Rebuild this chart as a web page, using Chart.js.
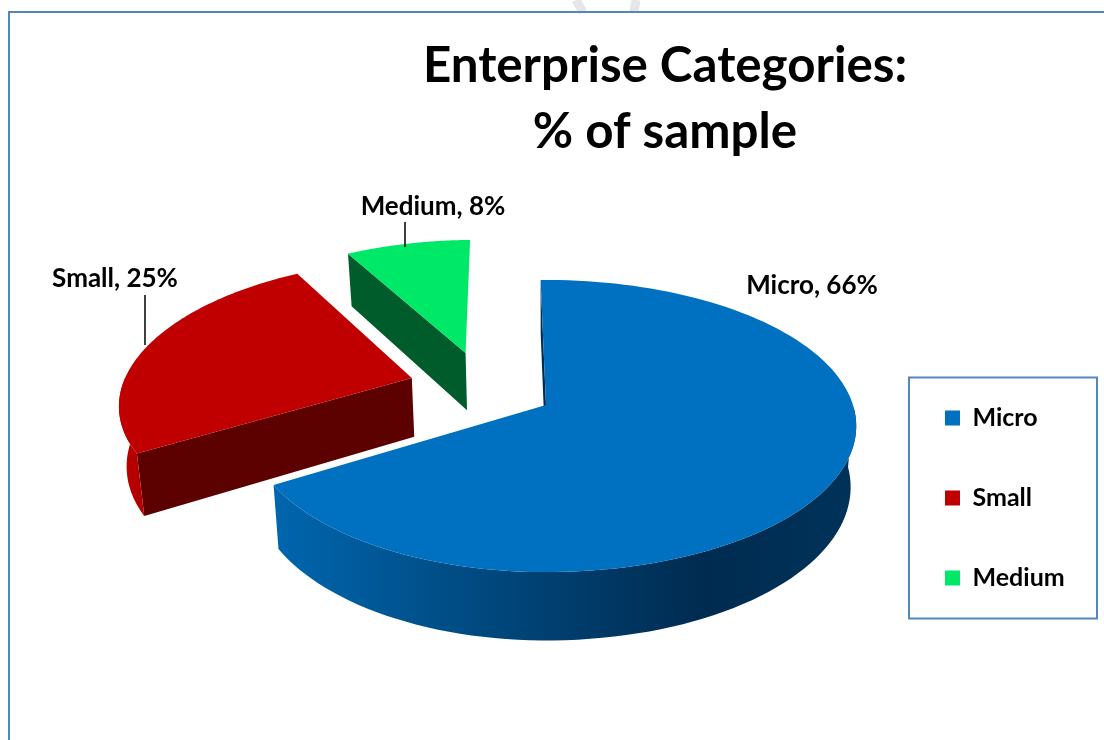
<!DOCTYPE html>
<html>
<head>
<meta charset="utf-8">
<title>Enterprise Categories</title>
<script src="https://cdn.jsdelivr.net/npm/chart.js@4"></script>
<style>
    html, body { margin: 0; padding: 0; background: #fff; overflow: hidden; }
    canvas { display: block; }
</style>
</head>
<body>
<canvas id="pieChart" width="1104" height="740"></canvas>
<script>
// Data
const categories = ['Micro', 'Small', 'Medium'];
const shares = [66, 25, 8];
const titleLines = ['Enterprise Categories:', '% of sample'];

// Slice colours: top face, cut face, rim shading left to right
const topColors = ['#0070c0', '#c00000', '#00e868'];
const cutColors = ['#002b50', '#5c0000', '#005c2a'];
const rimColors = [
    ['#0066ae', '#00477c', '#002b50', '#00335a'],
    ['#b80000', '#9c0000'],
    ['#00e868', '#00e868']
];

// Draws the pie's arcs tilted, exploded and with depth, and the value labels
const tiltedPie = {
    id: 'tiltedPie',
    afterLayout(chart, args, opts) {
        // the title and legend sit where the reference has them
        const t = chart.titleBlock;
        t.left = opts.titleCenter - 300;
        t.right = opts.titleCenter + 300;
        t.top = opts.titleTop;
        const lg = chart.legend;
        lg.left = opts.legendLeft;
        lg.right = opts.legendLeft + 210;
        lg.top = opts.legendTop;
        lg.bottom = opts.legendTop + 340;
    },
    beforeDraw(chart, args, opts) {
        const ctx = chart.ctx;
        ctx.save();
        // faint mark cut off at the top of the page
        ctx.strokeStyle = '#e6e6e6';
        ctx.lineWidth = 9;
        ctx.beginPath();
        ctx.moveTo(576, 0);
        ctx.lineTo(583, 12);
        ctx.moveTo(636, 0);
        ctx.lineTo(634, 12);
        ctx.stroke();
        ctx.strokeStyle = '#5585c0';
        ctx.lineWidth = 2;
        ctx.beginPath();
        ctx.moveTo(9, 740);
        ctx.lineTo(9, 12);
        ctx.lineTo(1104, 12);
        ctx.stroke();
        ctx.strokeRect(909, 377.5, 188, 241);
        ctx.restore();
    },
    beforeDatasetsDraw(chart, args, opts) {
        const ctx = chart.ctx;
        const arcs = chart.getDatasetMeta(0).data;

        const project = (u, v, R) => {
            const w = 1 - opts.perspective * v;
            const side = u < 0 ? opts.leftScale : 1;
            return {
                x: opts.centerX + side * R * u / w,
                y: opts.centerY + R * opts.squash * v / w
            };
        };
        const lower = (p) => ({
            x: opts.centerX + (p.x - opts.centerX) * opts.shrink,
            y: p.y + opts.depth + opts.depthSlope * (p.y - opts.centerY)
        });
        const polygon = (points, fill) => {
            ctx.beginPath();
            points.forEach((p, n) => (n ? ctx.lineTo(p.x, p.y) : ctx.moveTo(p.x, p.y)));
            ctx.closePath();
            ctx.fillStyle = fill;
            ctx.fill();
        };

        // back slices first, the big one goes on top
        for (let i = arcs.length - 1; i >= 0; i--) {
            const arc = arcs[i];
            const R = arc.outerRadius;
            const [du, dv] = opts.explode[i];
            const apex = project(du, dv, R);
            const steps = 120;
            const rim = [];
            const frontRim = [];
            for (let s = 0; s <= steps; s++) {
                const a = arc.startAngle + (arc.endAngle - arc.startAngle) * s / steps;
                const p = project(du + Math.cos(a), dv + Math.sin(a), R);
                rim.push(p);
                if (Math.sin(a) > 0) frontRim.push(p);
            }

            // cut faces, only the ones turned towards the viewer
            if (Math.cos(arc.startAngle) < 0) {
                polygon([apex, rim[0], lower(rim[0]), lower(apex)], cutColors[i]);
            }
            if (Math.cos(arc.endAngle) > 0) {
                polygon([apex, rim[steps], lower(rim[steps]), lower(apex)], cutColors[i]);
            }

            // rim with a sideways shade
            if (frontRim.length > 1) {
                const xs = rim.map((p) => p.x);
                const grad = ctx.createLinearGradient(Math.min(...xs), 0, Math.max(...xs), 0);
                rimColors[i].forEach((c, n) => {
                    grad.addColorStop(opts.rimStops[rimColors[i].length][n], c);
                });
                polygon(frontRim.concat(frontRim.slice().reverse().map(lower)), grad);
            }

            // top face
            polygon([apex].concat(rim), topColors[i]);
        }

        // value labels and their leader lines
        ctx.save();
        ctx.font = 'bold 26px Lato';
        ctx.fillStyle = '#000';
        ctx.textAlign = 'center';
        ctx.textBaseline = 'middle';
        categories.forEach((name, i) => {
            const spot = opts.labels[i];
            ctx.fillText(name + ', ' + shares[i] + '%', spot.x, spot.y);
            if (spot.leader) {
                ctx.strokeStyle = '#000';
                ctx.lineWidth = 1.5;
                ctx.beginPath();
                ctx.moveTo(spot.leader[0], spot.leader[1]);
                ctx.lineTo(spot.leader[0], spot.leader[2]);
                ctx.stroke();
            }
        });
        ctx.restore();
        return false;
    }
};

const pieChart = new Chart(document.getElementById('pieChart'), {
    type: 'pie',
    data: {
        labels: categories,
        datasets: [{
            data: shares,
            backgroundColor: topColors,
            borderColor: topColors,
            borderWidth: 0
        }]
    },
    plugins: [tiltedPie],
    options: {
        responsive: false,
        animation: false,
        devicePixelRatio: 1,
        rotation: -1.2,
        radius: 307,
        events: [],
        plugins: {
            tooltip: { enabled: false },
            title: {
                display: true,
                text: titleLines,
                color: '#000',
                padding: 0,
                font: { family: 'Lato', weight: 'bold', size: 49.3, lineHeight: 1.32 }
            },
            legend: {
                position: 'right',
                align: 'start',
                labels: {
                    color: '#000',
                    boxWidth: 15,
                    boxHeight: 15,
                    padding: 55,
                    font: { family: 'Lato', weight: 'bold', size: 25 }
                }
            },
            tiltedPie: {
                centerX: 546,
                centerY: 405,
                squash: 0.466,
                perspective: 0.144,
                leftScale: 0.96,
                shrink: 0.982,
                depth: 60,
                depthSlope: 0.05,
                explode: [[0, 0], [-0.468, -0.194], [-0.288, -0.384]],
                rimStops: { 2: [0, 1], 4: [0, 0.38, 0.74, 1] },
                titleCenter: 665,
                titleTop: 34,
                legendLeft: 890,
                legendTop: 350.5,
                labels: [
                    { x: 812, y: 286 },
                    { x: 115, y: 279, leader: [145, 295, 345] },
                    { x: 433, y: 207, leader: [405, 222, 247] }
                ]
            }
        }
    }
});
</script>
</body>
</html>
